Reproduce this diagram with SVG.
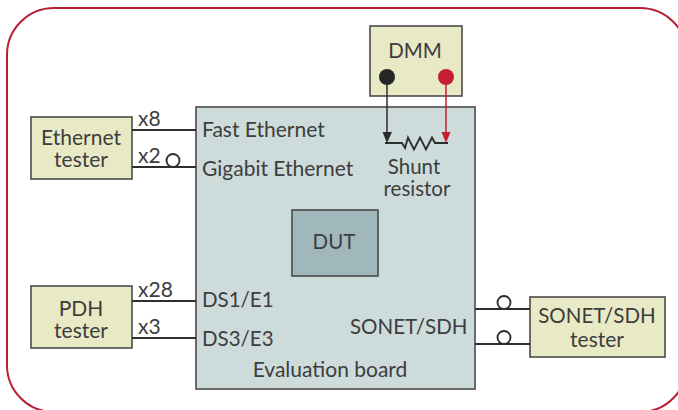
<svg xmlns="http://www.w3.org/2000/svg" width="678" height="410" viewBox="0 0 678 410">
<style>
text{font-family:"Lato","Open Sans","Liberation Sans",sans-serif;font-size:21px;fill:#3d3d3d}
.u{font-size:20.500px}
.m{text-anchor:middle}
.box{stroke:#4a4a4a;stroke-width:1.600}
.y{fill:#e8e9c5}
.b{fill:#cddbdb}
.w{fill:none;stroke:#2e2e2e;stroke-width:1.900}
.c{fill:none;stroke:#2e2e2e;stroke-width:1.900}
</style>
<rect x="7" y="8" width="680" height="404" rx="47" ry="47" fill="#fff" stroke="#b81f35" stroke-width="2"/>
<g id="board"><rect class="box b" x="196" y="107" width="279" height="282"/><text x="202" y="137">Fast Ethernet</text><text x="202" y="176">Gigabit Ethernet</text><text class="u" x="202" y="307">DS1/E1</text><text class="u" x="202" y="346">DS3/E3</text><text class="u" x="350" y="334">SONET/SDH</text><text class="m" x="330" y="377">Evaluation board</text><text class="m u" x="414" y="174">Shunt</text><text class="m u" x="417" y="196">resistor</text></g>
<g id="dut"><rect class="box" fill="#a0b8bb" x="292" y="210" width="86" height="66"/><text class="m u" x="334" y="249">DUT</text></g>
<g id="dmm"><rect class="box y" x="370" y="26" width="92" height="70"/><text class="m u" x="415" y="58">DMM</text><circle cx="387" cy="77" r="8" fill="#262626"/><circle cx="446" cy="77" r="8" fill="#c41e30"/></g>
<g id="ethernet-tester"><rect class="box y" x="31" y="117" width="101" height="62"/><text class="m" x="81" y="145">Ethernet</text><text class="m" x="81" y="167">tester</text></g>
<g id="pdh-tester"><rect class="box y" x="31" y="286" width="101" height="62"/><text class="m" x="81" y="316">PDH</text><text class="m" x="81" y="338">tester</text></g>
<g id="sonet-tester"><rect class="box y" x="530" y="297" width="135" height="60"/><text class="m u" x="597" y="323">SONET/SDH</text><text class="m" x="597" y="347">tester</text></g>
<g id="connectors">
<path class="w" d="M132 130H196M132 167H196M132 301H196M132 338H196M475 309H530M475 344H530"/>
<circle class="c" cx="173" cy="160.500" r="6.500"/><circle class="c" cx="504" cy="302.500" r="6.500"/><circle class="c" cx="504" cy="337.500" r="6.500"/>
<path class="w" style="stroke-width:1.500" d="M387 85V133"/>
<path d="M382.500 132H392L387 143Z" fill="#2b2b2b"/>
<path fill="none" stroke="#c41e30" stroke-width="1.500" d="M446 85V133"/>
<path d="M441.500 132H450.500L446 143Z" fill="#c41e30"/>
<path class="w" d="M385 143H402L405 148L408 137.500L414 149.500L420 137.500L426 149.500L432 137.500L435 143H448"/>
<text x="138" y="126">x8</text><text x="138" y="163">x2</text><text x="138" y="297">x28</text><text x="138" y="334">x3</text>
</g>
</svg>
